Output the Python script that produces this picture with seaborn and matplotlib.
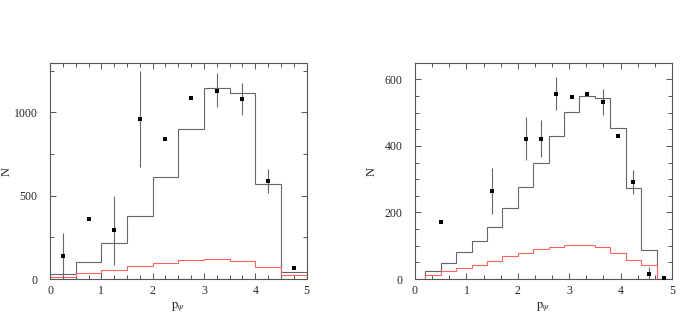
import numpy as np
import matplotlib
matplotlib.use("Agg")
import matplotlib.pyplot as plt
from matplotlib.ticker import MultipleLocator
import seaborn as sns

# ---- left panel: data points (with asymmetric error bars) ----
left_x = [0.25, 0.75, 1.25, 1.75, 2.25, 2.75, 3.25, 3.75, 4.25, 4.75]
left_y = [140, 360, 294, 962, 838, 1086, 1130, 1080, 588, 68]
left_hi = [278, 360, 500, 1250, 838, 1086, 1234, 1174, 662, 68]
left_lo = [0, 360, 84, 674, 838, 1086, 1030, 984, 518, 68]

# left panel histograms (bin width 0.5)
left_edges = [0.0, 0.5, 1.0, 1.5, 2.0, 2.5, 3.0, 3.5, 4.0, 4.5, 5.0]
left_mc = [28, 100, 218, 378, 612, 900, 1144, 1116, 568, 44]
left_bkg = [10, 34, 54, 76, 96, 114, 120, 106, 72, 24]

# ---- right panel ----
right_x = [0.5, 1.5, 2.15, 2.45, 2.75, 3.05, 3.35, 3.65, 3.95, 4.25, 4.55, 4.85]
right_y = [171, 264, 422, 422, 557, 546, 555, 531, 430, 291, 16, 2]
right_hi = [171, 335, 487, 477, 606, 546, 555, 570, 430, 327, 35, 2]
right_lo = [171, 194, 358, 368, 507, 546, 555, 492, 430, 256, 0, 2]

# right panel histograms (bin width 0.3)
right_edges = [0.2, 0.5, 0.8, 1.1, 1.4, 1.7, 2.0, 2.3, 2.6, 2.9, 3.2,
               3.5, 3.8, 4.1, 4.4, 4.7, 5.0]
right_mc = [23, 47, 80, 113, 155, 212, 276, 350, 429, 502, 549, 543,
            453, 272, 88, 0]
right_bkg = [11, 23, 32, 43, 55, 68, 78, 89, 95, 101, 101, 95, 78, 56,
             42, 0]

sns.set_theme(style="ticks")
plt.rcParams["font.family"] = ["Liberation Serif", "DejaVu Serif"]
plt.rcParams["mathtext.fontset"] = "stix"

AX_COL = "#555555"
MC_COL = "#666666"
BKG_COL = "#ff6060"

fig = plt.figure(figsize=(6.92, 3.21), dpi=100)
ax1 = fig.add_axes([0.0723, 0.1308, 0.3707, 0.6729])
ax2 = fig.add_axes([0.5997, 0.1308, 0.3714, 0.6729])


def draw_panel(ax, x, y, lo, hi, edges, mc, bkg, ymax, ymaj, ymin, xmin):
    y = np.asarray(y, float)
    yerr = [y - np.asarray(lo, float), np.asarray(hi, float) - y]
    ax.stairs(mc, edges, color=MC_COL, lw=0.8, baseline=0)
    ax.stairs(bkg, edges, color=BKG_COL, lw=0.8, baseline=0)
    ax.errorbar(x, y, yerr=yerr, fmt="none", ecolor=MC_COL, elinewidth=0.8,
                capsize=0, zorder=3)
    sns.scatterplot(x=x, y=y, ax=ax, marker="s", s=10, color="black",
                    edgecolor="black", linewidth=0, zorder=4)
    ax.set_xlim(0, 5)
    ax.set_ylim(0, ymax)
    ax.xaxis.set_major_locator(MultipleLocator(1))
    ax.xaxis.set_minor_locator(MultipleLocator(xmin))
    ax.yaxis.set_major_locator(MultipleLocator(ymaj))
    ax.yaxis.set_minor_locator(MultipleLocator(ymin))
    ax.tick_params(which="both", direction="in", top=True, right=True,
                   color=AX_COL, width=0.7, labelsize=8.5)
    ax.tick_params(which="major", length=4)
    ax.tick_params(which="minor", length=3)
    ax.tick_params(axis="y", pad=9)
    ax.tick_params(axis="x", pad=4)
    for sp in ax.spines.values():
        sp.set_color(AX_COL)
        sp.set_linewidth(0.8)
    ax.set_xlabel(r"$\mathrm{p}_{\psi}$", fontsize=9, labelpad=3)
    ax.set_ylabel("N", fontsize=9)
    ax.yaxis.set_label_coords(-0.146, 0.5)


draw_panel(ax1, left_x, left_y, left_lo, left_hi, left_edges, left_mc,
           left_bkg, 1295, 500, 250, 0.25)
draw_panel(ax2, right_x, right_y, right_lo, right_hi, right_edges, right_mc,
           right_bkg, 649, 200, 50, 1 / 3)

fig.savefig("out.png", dpi=100)
